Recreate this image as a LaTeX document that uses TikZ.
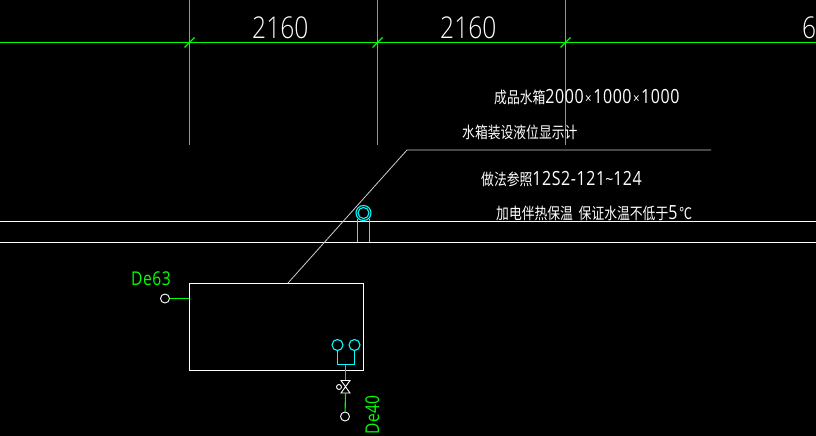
\documentclass[tikz,border=0pt]{standalone}
\usepackage{fontspec}
\setmainfont{Liberation Sans}
\newfontfamily\cjk[FakeStretch=0.8]{Noto Sans CJK SC}
\newfontfamily\dig[FakeStretch=0.82]{Open Sans Light}
\newfontfamily\digs[FakeStretch=0.82,LetterSpace=3]{Open Sans}
\definecolor{cadgreen}{RGB}{0,255,0}
\definecolor{cadcyan}{RGB}{0,255,255}
\definecolor{cadgrey}{RGB}{205,205,205}
\tikzset{
  wline/.style={draw=white,line width=0.9pt},
  gline/.style={draw=cadgreen,line width=1.1pt},
  gaxis/.style={draw=cadgreen,line width=1.5pt},
  cline/.style={draw=cadcyan,line width=1.1pt},
  greyline/.style={draw=cadgrey,line width=0.8pt},
  dimtext/.style={text=white,inner sep=0pt,anchor=base west,font=\dig\fontsize{30}{30}\selectfont},
  note/.style={text=white,inner sep=0pt,anchor=base west,font=\fontsize{16}{16}\selectfont},
  gtext/.style={text=cadgreen,inner sep=0pt,anchor=base west,font=\digs\fontsize{19}{19}\selectfont},
  port/.style={circle,draw=white,line width=0.9pt,minimum size=9pt,inner sep=0pt},
  cport/.style={circle,draw=cadcyan,line width=1.1pt,minimum size=11pt,inner sep=0pt},
}
\newcommand{\dg}[1]{{\digs\fontsize{19.5}{19.5}\selectfont #1}}
\newcommand{\tm}{\hspace{1.5pt}{\digs\fontsize{14}{14}\selectfont ×}\hspace{1.5pt}}
\newcommand{\tl}{{\digs\fontsize{17}{17}\selectfont \textasciitilde}}
\begin{document}
\begin{tikzpicture}[x=1pt,y=-1pt]
\fill[black] (0,0) rectangle (816,436);
\useasboundingbox (0,0) rectangle (816,436);
% grid axes
\draw[gaxis] (189.5,0) -- (189.5,145);
\draw[gaxis] (377.5,0) -- (377.5,145);
\draw[gaxis] (565.5,0) -- (565.5,145);
\draw[gline] (0,42.5) -- (816,42.5);
\draw[gline] (184.5,47.5) -- (194.5,37.5);
\draw[gline] (372.5,47.5) -- (382.5,37.5);
\draw[gline] (560.5,47.5) -- (570.5,37.5);
\node[dimtext] (d1) at (252,38) {2160};
\node[dimtext] (d2) at (440,38) {2160};
\node[dimtext] (d3) at (802,38) {6};
% notes
\node[note] (n1) at (494,103) {{\cjk 成品水箱}\dg{2000}\tm\dg{1000}\tm\dg{1000}};
\node[note] (n2) at (462,138) {\cjk 水箱装设液位显示计};
\node[note] (n3) at (481,185) {{\cjk 做法参照}\dg{12S2-121}\tl\dg{124}};
\node[note] (n4) at (496,219) {{\cjk 加电伴热保温\ \ 保证水温不低于}\dg{5}\hspace{2pt}{\cjk ℃}};
% wall
\draw[wline] (0,221.5) -- (816,221.5);
\draw[wline] (0,242.5) -- (816,242.5);
% tank
\node[draw=white,line width=0.9pt,minimum width=174.2pt,minimum height=87.2pt,inner sep=0pt,anchor=north west] (tank) at (189,283) {};
% leader
\coordinate (l0) at (288,283);
\coordinate (l1) at (407,150);
\coordinate (l2) at (711,150);
\draw[greyline] (l0) -- (l1) -- (l2);
% level gauge
\node[cport,minimum size=15pt] (g1) at (363.5,213) {};
\node[cport,minimum size=11pt] (g2) at (363.5,213) {};
\coordinate (g3) at (357.5,242);
\coordinate (g4) at (369.5,242);
\draw[cline] (357.5,219) -- (g3);
\draw[cline] (369.5,219) -- (g4);
% inlet
\node[port] (p1) at (165,298.5) {};
\coordinate (t1) at (189,298.5);
\draw[gline] (p1) -- (t1);
\node[gtext] (de63) at (131,285) {De63};
% outlet
\node[cport] (c1) at (337.5,345) {};
\node[cport] (c2) at (354.5,345) {};
\coordinate (j) at (345.5,364.5);
\draw[cline] (c1) -- (337.5,364.5) -- (354.5,364.5) -- (c2);
\coordinate (v1) at (345.5,380);
\coordinate (v2) at (345.5,393);
\draw[gline] (j) -- (v1);
\draw[wline] (341,380.5) -- (350,380.5) -- (341,393) -- (350,393) -- cycle;
\node[port,minimum size=5pt] (vc) at (339,387) {};
\node[port] (p2) at (345,416.5) {};
\draw[gline] (v2) -- (p2);
\node[gtext,rotate=90] (de40) at (379,435) {De40};
\end{tikzpicture}
\end{document}
